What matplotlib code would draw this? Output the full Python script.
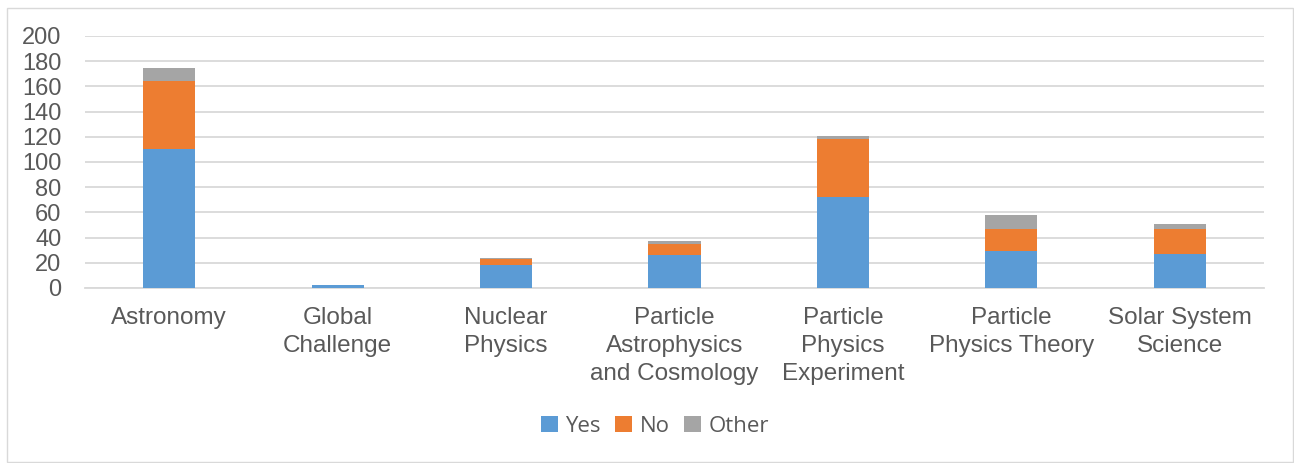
import matplotlib
matplotlib.use("Agg")
import matplotlib.pyplot as plt
import numpy as np
from matplotlib.patches import Rectangle

categories = ["Astronomy", "Global\nChallenge", "Nuclear\nPhysics",
              "Particle\nAstrophysics\nand Cosmology", "Particle\nPhysics\nExperiment",
              "Particle\nPhysics Theory", "Solar System\nScience"]
yes = [110, 2, 18, 26, 72, 29, 27]
no = [54, 0, 5, 9, 46, 18, 20]
other = [11, 0, 1, 2, 3, 11, 4]
series_names = ["Yes", "No", "Other"]
colors = ["#5B9BD5", "#ED7D31", "#A5A5A5"]
yticks = list(range(0, 201, 20))

W, H = 1294, 463
fig = plt.figure(figsize=(W / 100, H / 100), dpi=100)
fig.patches.append(Rectangle((7 / W, 1 - 462 / H), 1286 / W, 454 / H, transform=fig.transFigure,
                             fill=False, edgecolor="#D9D9D9", linewidth=1.0))
ax = fig.add_axes([85 / W, 1 - 288 / H, (1264 - 85) / W, (288 - 36) / H])

x = np.arange(len(categories))
bw = 0.31
b1 = ax.bar(x, yes, bw, color=colors[0], label=series_names[0], zorder=3)
b2 = ax.bar(x, no, bw, bottom=yes, color=colors[1], label=series_names[1], zorder=3)
bot = np.array(yes) + np.array(no)
b3 = ax.bar(x, other, bw, bottom=bot, color=colors[2], label=series_names[2], zorder=3)

ax.set_xlim(-0.5, len(categories) - 0.5)
ax.set_ylim(0, 200)
ax.set_yticks(yticks)
ax.grid(axis="y", color="#D9D9D9", linewidth=1.3, zorder=0)
for s in ["top", "right", "left"]:
    ax.spines[s].set_visible(False)
ax.spines["bottom"].set_color("#D9D9D9")
ax.spines["bottom"].set_linewidth(1.3)
ax.spines["bottom"].set_zorder(1)
ax.tick_params(axis="x", length=0, labelsize=17.5, labelcolor="#595959", pad=14)
ax.tick_params(axis="y", length=0, labelsize=17, labelcolor="#595959", pad=17)
ax.set_xticks(x)
ax.set_xticklabels(categories, family="Liberation Sans", linespacing=1.34, va="top")
for lbl in ax.get_yticklabels():
    lbl.set_family("Liberation Sans")

leg = fig.legend(handles=[b1, b2, b3], labels=series_names, loc="center",
                 bbox_to_anchor=(655 / W, 1 - 426 / H), ncol=3, frameon=False,
                 prop={"family": "Open Sans", "size": 16}, handlelength=0.75, handleheight=0.75,
                 handletextpad=0.35, columnspacing=0.65, labelcolor="#595959")

fig.savefig("out.png", dpi=100)
